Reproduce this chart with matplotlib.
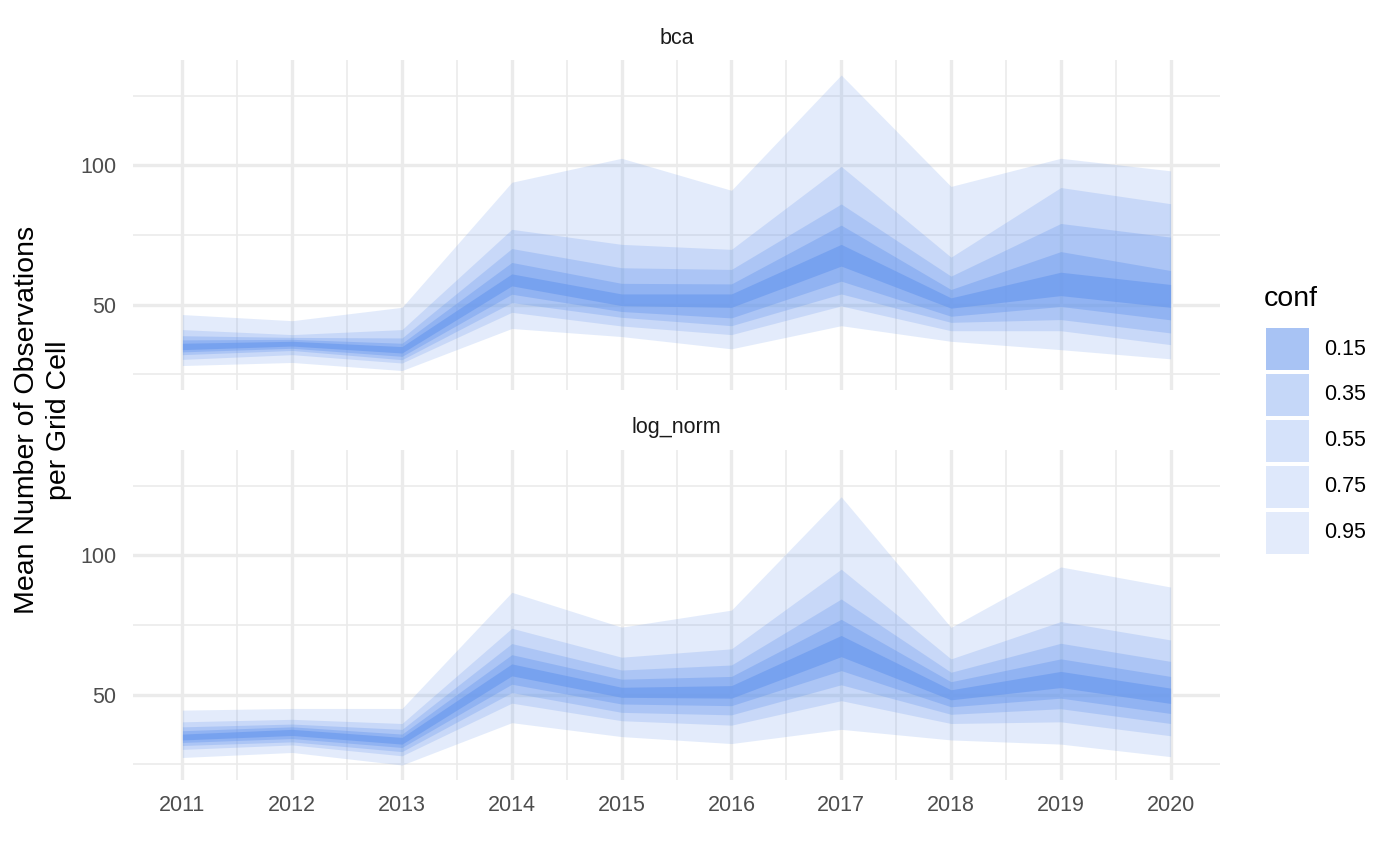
import matplotlib
matplotlib.use("Agg")
import matplotlib.pyplot as plt
from matplotlib.patches import Rectangle
from matplotlib.ticker import MultipleLocator

plt.rcParams['font.family'] = ['Liberation Sans', 'DejaVu Sans']

#### Data ####
years = [2011, 2012, 2013, 2014, 2015, 2016, 2017, 2018, 2019, 2020]
conf_levels = [0.15, 0.35, 0.55, 0.75, 0.95]

# bca
bca_hi_95 = [46.4, 44.2, 49.0, 93.9, 102.5, 91.0, 132.4, 92.4, 102.5, 98.0]
bca_hi_75 = [41.0, 39.2, 41.0, 77.0, 71.6, 69.8, 99.6, 67.0, 92.0, 86.2]
bca_hi_55 = [38.8, 38.2, 38.0, 70.1, 63.2, 62.6, 86.1, 60.2, 79.1, 74.2]
bca_hi_35 = [37.3, 37.5, 36.1, 65.1, 57.6, 57.4, 78.5, 55.4, 69.0, 62.2]
bca_hi_15 = [36.1, 36.8, 34.9, 61.0, 53.8, 53.8, 71.6, 52.4, 61.6, 57.2]
bca_lo_15 = [33.8, 35.1, 32.6, 56.7, 49.6, 49.0, 63.8, 48.7, 53.2, 49.0]
bca_lo_35 = [33.0, 34.3, 31.4, 53.7, 47.5, 45.2, 58.4, 45.8, 49.3, 44.5]
bca_lo_55 = [32.0, 33.5, 30.2, 50.7, 45.4, 42.4, 53.8, 43.6, 44.6, 39.8]
bca_lo_75 = [30.3, 32.0, 29.0, 47.2, 42.3, 39.2, 49.5, 40.6, 40.6, 35.6]
bca_lo_95 = [28.1, 29.2, 26.3, 41.4, 38.5, 34.1, 42.4, 36.8, 33.8, 30.5]

# log_norm
ln_hi_95 = [44.4, 45.0, 45.0, 86.7, 74.2, 80.3, 121.0, 74.1, 95.8, 88.6]
ln_hi_75 = [40.2, 41.1, 39.6, 73.8, 63.4, 66.4, 95.0, 62.8, 76.2, 69.6]
ln_hi_55 = [38.4, 39.4, 37.5, 68.3, 58.8, 60.6, 84.3, 58.0, 68.4, 61.9]
ln_hi_35 = [37.0, 38.4, 35.8, 64.3, 55.5, 56.5, 77.0, 54.6, 62.8, 56.5]
ln_hi_15 = [35.8, 37.5, 34.6, 61.0, 52.6, 53.2, 71.2, 51.7, 58.3, 52.3]
ln_lo_15 = [33.7, 35.3, 32.2, 56.7, 49.0, 48.7, 63.6, 48.1, 52.5, 46.8]
ln_lo_35 = [32.8, 34.2, 31.0, 53.7, 46.6, 46.0, 58.6, 45.6, 48.7, 43.2]
ln_lo_55 = [31.7, 33.0, 29.5, 50.7, 43.6, 42.7, 53.5, 42.9, 44.9, 39.6]
ln_lo_75 = [30.3, 31.9, 28.0, 46.9, 40.6, 39.0, 47.8, 39.6, 40.2, 35.2]
ln_lo_95 = [27.4, 29.2, 24.7, 39.9, 34.9, 32.4, 37.5, 33.7, 32.2, 27.7]

panels = [
    ("bca", [bca_lo_15, bca_lo_35, bca_lo_55, bca_lo_75, bca_lo_95],
            [bca_hi_15, bca_hi_35, bca_hi_55, bca_hi_75, bca_hi_95]),
    ("log_norm", [ln_lo_15, ln_lo_35, ln_lo_55, ln_lo_75, ln_lo_95],
                 [ln_hi_15, ln_hi_35, ln_hi_55, ln_hi_75, ln_hi_95]),
]

#### Style ####
fill_color = "cornflowerblue"
alphas = [0.56, 0.37, 0.27, 0.21, 0.18]   # one per conf level
grid_col = "#EBEBEB"
tick_col = "#4D4D4D"

# shared y range with 5% expansion like ggplot
all_vals = [v for _, los, his in panels for s in los + his for v in s]
ymin, ymax = min(all_vals), max(all_vals)
pad = (ymax - ymin) * 0.05
xpad = (years[-1] - years[0]) * 0.05

fig = plt.figure(figsize=(14, 8.65), dpi=100)
W, H = 1400, 865
panel_px = [(60, 390), (450, 780)]
left_px, right_px = 133, 1220

for (name, los, his), (top, bot) in zip(panels, panel_px):
    ax = fig.add_axes([left_px / W, 1 - bot / H, (right_px - left_px) / W, (bot - top) / H])
    # widest band first, narrowest on top
    for i in reversed(range(len(conf_levels))):
        ax.fill_between(years, los[i], his[i], color=fill_color, alpha=alphas[i],
                        linewidth=0, zorder=2)
    ax.set_xlim(years[0] - xpad, years[-1] + xpad)
    ax.set_ylim(ymin - pad, ymax + pad)
    ax.xaxis.set_major_locator(MultipleLocator(1))
    ax.xaxis.set_minor_locator(MultipleLocator(0.5))
    ax.yaxis.set_major_locator(MultipleLocator(50))
    ax.yaxis.set_minor_locator(MultipleLocator(25))
    ax.grid(which="major", color=grid_col, linewidth=2.4, zorder=0)
    ax.grid(which="minor", color=grid_col, linewidth=1.2, zorder=0)
    ax.set_axisbelow(True)
    for sp in ax.spines.values():
        sp.set_visible(False)
    ax.tick_params(which="both", length=0, labelsize=15.5, labelcolor=tick_col)
    ax.tick_params(axis="y", pad=12)
    ax.tick_params(axis="x", pad=11)
    if name == "bca":
        ax.tick_params(axis="x", labelbottom=False)
    fig.text((left_px + right_px) / 2 / W, 1 - (top - 22) / H, name,
             ha="center", va="center", fontsize=15.5, color="#1A1A1A")

fig.text(43 / W, 1 - 420 / H, "Mean Number of Observations\nper Grid Cell",
         rotation=90, ha="center", va="center", fontsize=20.5, linespacing=1.25)

# legend built by hand
fig.text(1264 / W, 1 - 299 / H, "conf", ha="left", va="center", fontsize=20.5)
for i, c in enumerate(conf_levels):
    top = 328 + i * 46
    fig.patches.append(Rectangle((1266 / W, 1 - (top + 42) / H), 43 / W, 42 / H,
                                 transform=fig.transFigure, facecolor=fill_color,
                                 alpha=alphas[i], linewidth=0))
    fig.text(1324 / W, 1 - (top + 21) / H, f"{c:.2f}", ha="left", va="center",
             fontsize=15.5, color="black")

fig.savefig("out.png", dpi=100, facecolor="white")
